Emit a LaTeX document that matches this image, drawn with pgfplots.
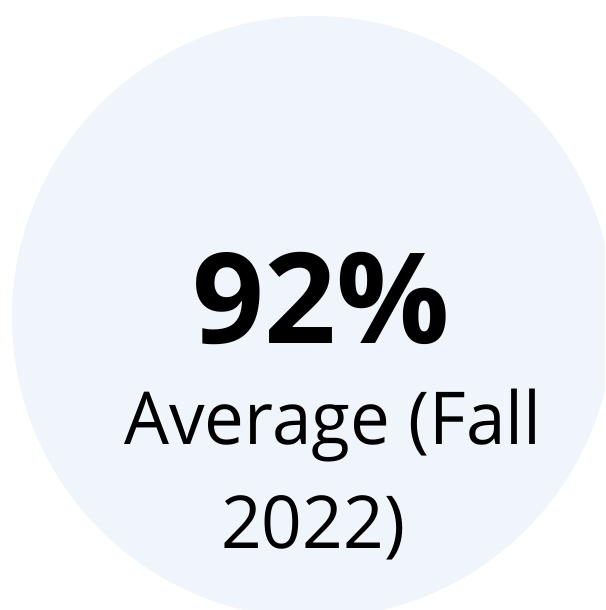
\documentclass[border=0pt]{standalone}
\usepackage{pgfplots}
\pgfplotsset{compat=1.18}
\usepackage{fontspec}
\setmainfont{Open Sans}
\definecolor{circ}{HTML}{F0F4FB}
\begin{document}
\begin{tikzpicture}
\begin{axis}[
  scale only axis, width=605pt, height=610pt,
  xmin=0, xmax=605, ymin=0, ymax=610, y dir=reverse,
  hide axis, clip=true,
]
\fill[circ] (axis cs:313,317) circle [radius=301];
\node[anchor=base west, inner sep=0pt, font=\fontsize{126}{130}\selectfont\bfseries] at (axis cs:192,343) {92\%};
\node[anchor=base west, inner sep=0pt, font=\fontsize{73}{80}\selectfont] at (axis cs:124,444) {\scalebox{0.972}[1]{Average (Fall}};
\node[anchor=base west, inner sep=0pt, font=\fontsize{73}{80}\selectfont] at (axis cs:221,548) {\scalebox{0.975}[1]{2022)}};
\end{axis}
\pgfresetboundingbox
\useasboundingbox (current axis.south west) rectangle (current axis.north east);
\end{tikzpicture}
\end{document}
